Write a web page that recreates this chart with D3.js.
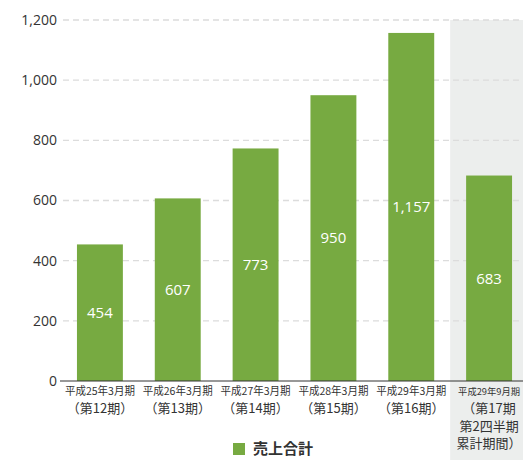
<!DOCTYPE html>
<html>
<head>
<meta charset="utf-8">
<script src="https://cdn.jsdelivr.net/npm/d3@7"></script>
<style>
  body { margin: 0; background: #fff; }
  text { font-family: "Noto Sans CJK JP", "Noto Sans", sans-serif; }
</style>
</head>
<body>
<div id="chart"></div>
<script>
// categories (period label, lines)
const periods = ["平成25年3月期", "平成26年3月期", "平成27年3月期", "平成28年3月期", "平成29年3月期", "平成29年9月期"];
const subLabels = [["（第12期）"], ["（第13期）"], ["（第14期）"], ["（第15期）"], ["（第16期）"], ["（第17期", "第2四半期", "累計期間）"]];
const sales = [454, 607, 773, 950, 1157, 683];
const yTicks = [0, 200, 400, 600, 800, 1000, 1200];
const legendLabel = "売上合計";

const W = 523, H = 460;
const margin = {top: 20, right: 0, bottom: 79, left: 61};
const barColor = "#77aa41";

const svg = d3.select("#chart")
    .append("svg")
    .attr("width", W)
    .attr("height", H);

const x = d3.scaleBand()
    .domain(periods)
    .range([margin.left, 528])
    .paddingInner(0.41)
    .paddingOuter(0.205);

const y = d3.scaleLinear()
    .domain([0, 1200])
    .range([H - margin.bottom, margin.top]);

// grey background for the half-year column
const last = periods[periods.length - 1];
svg.append("rect")
    .attr("x", x(last) - x.step() * x.paddingInner() / 2)
    .attr("y", y(1200))
    .attr("width", x.step())
    .attr("height", H - y(1200))
    .attr("fill", "#eceeed");

// dashed grid
svg.append("g")
    .selectAll("line")
    .data(yTicks.filter(d => d > 0))
    .join("line")
    .attr("x1", margin.left + 2)
    .attr("x2", W)
    .attr("y1", d => y(d))
    .attr("y2", d => y(d))
    .attr("stroke", "#dcdcdc")
    .attr("stroke-width", 1.3)
    .attr("stroke-dasharray", "6,4");

// y axis labels
const yAxis = svg.append("g")
    .attr("transform", "translate(" + margin.left + ",0)")
    .call(d3.axisLeft(y).tickValues(yTicks).tickSize(0).tickPadding(4).tickFormat(d3.format(",")));
yAxis.select(".domain").remove();
yAxis.selectAll("text")
    .attr("fill", "#333")
    .style("font-size", "14px")
    .style("font-family", "'Open Sans', sans-serif");

// bars
svg.append("g")
    .selectAll("rect")
    .data(sales)
    .join("rect")
    .attr("x", (d, i) => x(periods[i]))
    .attr("y", d => y(d))
    .attr("width", x.bandwidth())
    .attr("height", d => y(0) - y(d))
    .attr("fill", barColor);

// value labels
svg.append("g")
    .selectAll("text")
    .data(sales)
    .join("text")
    .attr("x", (d, i) => x(periods[i]) + x.bandwidth() / 2)
    .attr("y", d => (y(d) + y(0)) / 2)
    .attr("dy", "0.35em")
    .attr("text-anchor", "middle")
    .attr("fill", "#fff")
    .style("font-size", "15px")
    .style("font-family", "'Open Sans', sans-serif")
    .text(d => d3.format(",")(d));

// baseline
svg.append("line")
    .attr("x1", margin.left - 1)
    .attr("x2", W)
    .attr("y1", y(0))
    .attr("y2", y(0))
    .attr("stroke", "#333")
    .attr("stroke-width", 1.2);

// x labels
const xl = svg.append("g")
    .selectAll("g")
    .data(periods)
    .join("g")
    .attr("transform", d => "translate(" + (x(d) + x.bandwidth() / 2) + "," + (y(0)) + ")");

xl.append("text")
    .attr("y", 14)
    .attr("text-anchor", "middle")
    .attr("fill", "#333")
    .attr("textLength", (d, i) => i === periods.length - 1 ? 62 : 70)
    .attr("lengthAdjust", "spacingAndGlyphs")
    .style("font-size", (d, i) => i === periods.length - 1 ? "9px" : "11px")
    .text(d => d);

xl.each(function(d, i) {
    d3.select(this).selectAll("text.sub")
        .data(subLabels[i])
        .join("text")
        .attr("class", "sub")
        .attr("y", (s, j) => 32 + j * 17.5)
        .attr("text-anchor", "middle")
        .attr("fill", "#333")
        .style("font-size", "13px")
        .text(s => s);
});

// legend
const legend = svg.append("g").attr("transform", "translate(233,443)");
legend.append("rect")
    .attr("width", 12)
    .attr("height", 12)
    .attr("fill", barColor);
legend.append("text")
    .attr("x", 20)
    .attr("y", 6)
    .attr("dy", "0.35em")
    .attr("fill", "#333")
    .style("font-size", "15px")
    .style("font-weight", "bold")
    .text(legendLabel);
</script>
</body>
</html>
